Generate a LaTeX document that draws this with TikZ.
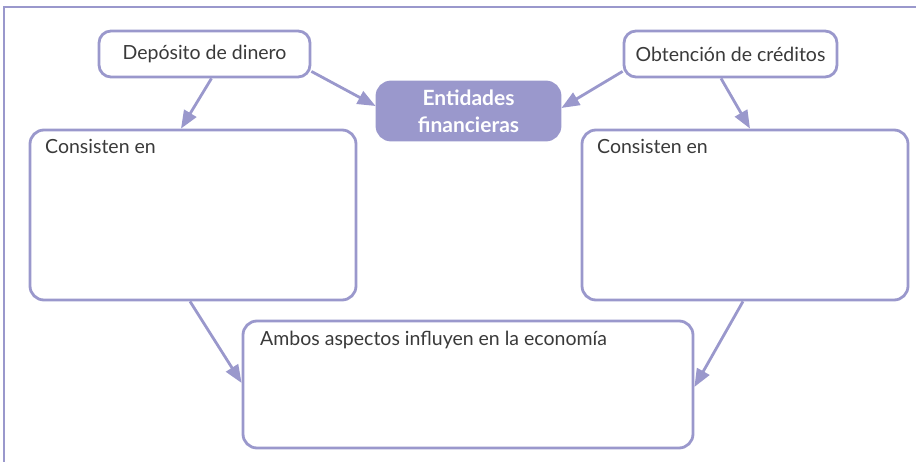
\documentclass[tikz,border=0pt]{standalone}
\usepackage{fontspec}
\setmainfont{Lato}
\usetikzlibrary{arrows.meta}
\definecolor{lav}{HTML}{9A98CC}
\definecolor{txt}{HTML}{3A3A3A}
\tikzset{
  box/.style={draw=lav, line width=2.8pt, rounded corners=12pt, fill=white, inner sep=0pt},
  topbox/.style={box, text=txt, font=\fontsize{19.5}{23}\selectfont},
  bigbox/.style={box, rounded corners=14pt},
  hub/.style={draw=lav, line width=2.8pt, rounded corners=14pt, fill=lav, text=white, inner sep=0pt, align=center, font=\bfseries\fontsize{21}{27}\selectfont},
  lbl/.style={text=txt, font=\fontsize{19.5}{23}\selectfont, anchor=base west, inner sep=0pt},
  conn/.style={draw=lav, line width=2.8pt, -{Triangle[length=18pt,width=14pt]}}
}
\begin{document}
\begin{tikzpicture}[x=1pt,y=-1pt]
\useasboundingbox (0,0) rectangle (916,462);
\draw[lav, line width=2.8pt] (4,462) -- (4,7) -- (916,7);
\node[topbox, minimum width=211pt, minimum height=46pt] (dep) at (204.5,54) {Depósito de dinero};
\node[topbox, minimum width=213pt, minimum height=46pt] (obt) at (730.5,54) {Obtención de créditos};
\node[hub, minimum width=183pt, minimum height=58pt] (ent) at (468.5,111) {Entidades\\financieras};
\node[bigbox, minimum width=326pt, minimum height=170pt] (lc) at (193,215) {};
\node[bigbox, minimum width=326pt, minimum height=170pt] (rc) at (745,215) {};
\node[bigbox, minimum width=450pt, minimum height=127pt] (amb) at (468,384.5) {};
\node[lbl] (lct) at (45,154) {Consisten en};
\node[lbl] (rct) at (597,154) {Consisten en};
\node[lbl] (ambt) at (260,345) {Ambos aspectos influyen en la economía};
\draw[conn] ([xshift=7pt]dep.south) -- ([xshift=-12pt]lc.north);
\draw[conn] ([yshift=7pt]dep.south east) -- ([yshift=5pt]ent.west);
\draw[conn] ([yshift=7pt]obt.south west) -- ([yshift=3pt]ent.east);
\draw[conn] ([xshift=-9.5pt]obt.south) -- ([xshift=5pt]rc.north);
\draw[conn] ([xshift=-3pt]lc.south) -- ([yshift=1.5pt]amb.west);
\draw[conn] ([xshift=-2pt]rc.south) -- ([yshift=-2.5pt]amb.east);
\end{tikzpicture}
\end{document}
